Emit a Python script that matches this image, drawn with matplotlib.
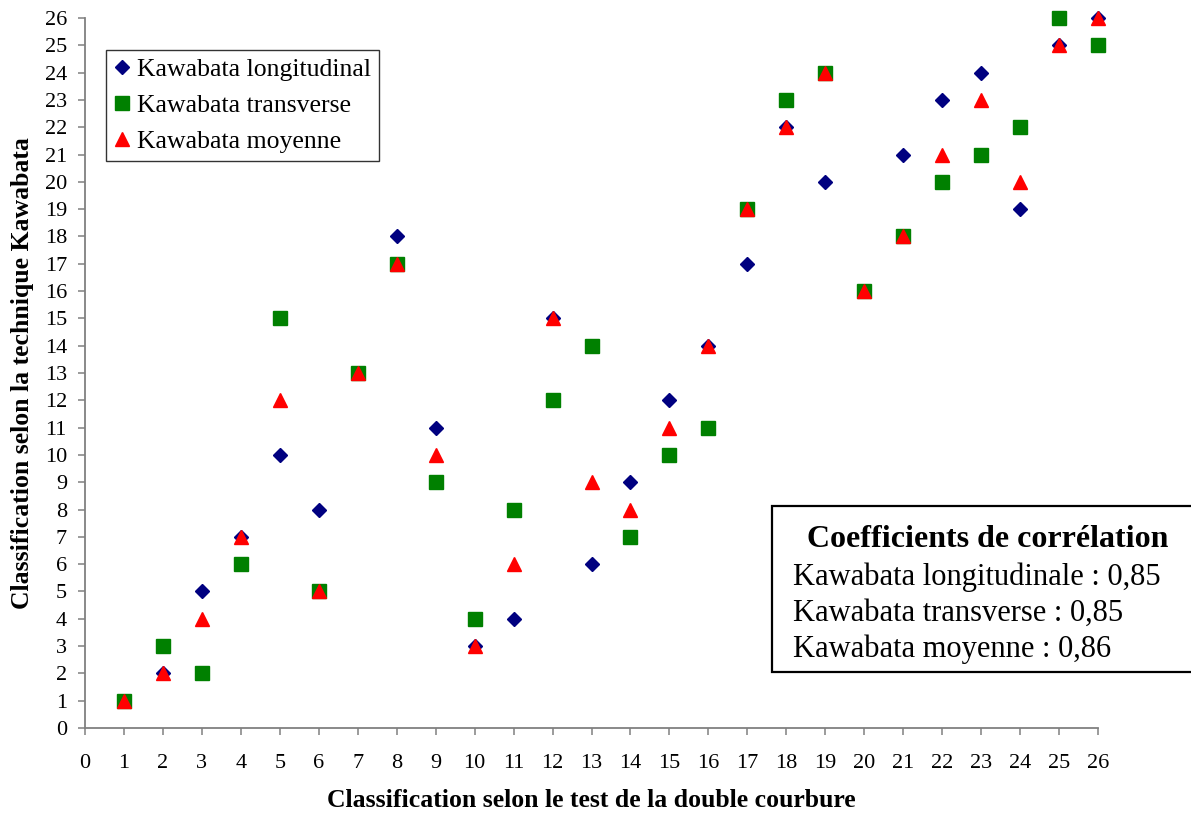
import matplotlib
matplotlib.use("Agg")
import matplotlib.pyplot as plt
from matplotlib.patches import Rectangle

plt.rcParams['font.family'] = ['Liberation Serif', 'DejaVu Serif']

# Rank from the double-curvature test (x) and Kawabata ranks (y)
rang_double_courbure = list(range(1, 27))
kawabata_longitudinal = [1, 2, 5, 7, 10, 8, 13, 18, 11, 3, 4, 15, 6, 9, 12, 14, 17, 22, 20, 16, 21, 23, 24, 19, 25, 26]
kawabata_transverse = [1, 3, 2, 6, 15, 5, 13, 17, 9, 4, 8, 12, 14, 7, 10, 11, 19, 23, 24, 16, 18, 20, 21, 22, 26, 25]
kawabata_moyenne = [1, 2, 4, 7, 12, 5, 13, 17, 10, 3, 6, 15, 9, 8, 11, 14, 19, 22, 24, 16, 18, 21, 23, 20, 25, 26]

correlations = [("Kawabata longitudinale", "0,85"),
                ("Kawabata transverse", "0,85"),
                ("Kawabata moyenne", "0,86")]

fig = plt.figure(figsize=(11.91, 8.13), dpi=100)
ax = fig.add_axes([85 / 1191, 85 / 813, (1098 - 85) / 1191, (728 - 18) / 813])

ax.plot(rang_double_courbure, kawabata_longitudinal, linestyle='none', marker='D',
        markersize=7, color='#000080', label='Kawabata longitudinal', clip_on=False)
ax.plot(rang_double_courbure, kawabata_transverse, linestyle='none', marker='s',
        markersize=10, color='#008000', label='Kawabata transverse', clip_on=False)
ax.plot(rang_double_courbure, kawabata_moyenne, linestyle='none', marker='^',
        markersize=10, color='#FF0000', label='Kawabata moyenne', clip_on=False)

ax.set_xlim(0, 26)
ax.set_ylim(0, 26)
ax.set_xticks(range(0, 27))
ax.set_yticks(range(0, 27))
for side in ('top', 'right'):
    ax.spines[side].set_visible(False)
for side in ('left', 'bottom'):
    ax.spines[side].set_color('#808080')
    ax.spines[side].set_linewidth(1.3)
ax.tick_params(direction='out', length=5, width=1.1, color='#808080',
               labelsize=16, labelcolor='black')
ax.tick_params(axis='x', pad=14)
ax.tick_params(axis='y', pad=8)

ax.set_xlabel("Classification selon le test de la double courbure",
              fontsize=18.5, fontweight='bold', labelpad=11)
ax.set_ylabel("Classification selon la technique Kawabata",
              fontsize=18.5, fontweight='bold', labelpad=8)

leg = ax.legend(loc='upper left', bbox_to_anchor=((106 - 85) / (1098 - 85), (728 - 50) / (728 - 18)),
                fontsize=18.5, frameon=True, fancybox=False, edgecolor='black',
                handletextpad=0.25, handlelength=0.65, borderpad=0.3, labelspacing=0.52,
                borderaxespad=0, handleheight=0.7)
leg.get_frame().set_linewidth(1.0)

# Correlation box, running past the right edge of the figure
box_left = 772 / 1191
box_bottom = (813 - 672) / 813
box_top = (813 - 506) / 813
fig.patches.append(Rectangle((box_left, box_bottom), 0.5, box_top - box_bottom,
                             transform=fig.transFigure, facecolor='white',
                             edgecolor='black', linewidth=1.6, zorder=5))
fig.text(988 / 1191, (813 - 539) / 813, "Coefficients de corrélation", ha='center',
         va='center', fontsize=23, fontweight='bold', zorder=6)
for i, (nom, val) in enumerate(correlations):
    fig.text(793 / 1191, (813 - (577 + 36 * i)) / 813, f"{nom} : {val}", ha='left',
             va='center', fontsize=22, zorder=6)

fig.savefig("out.png", dpi=100)
